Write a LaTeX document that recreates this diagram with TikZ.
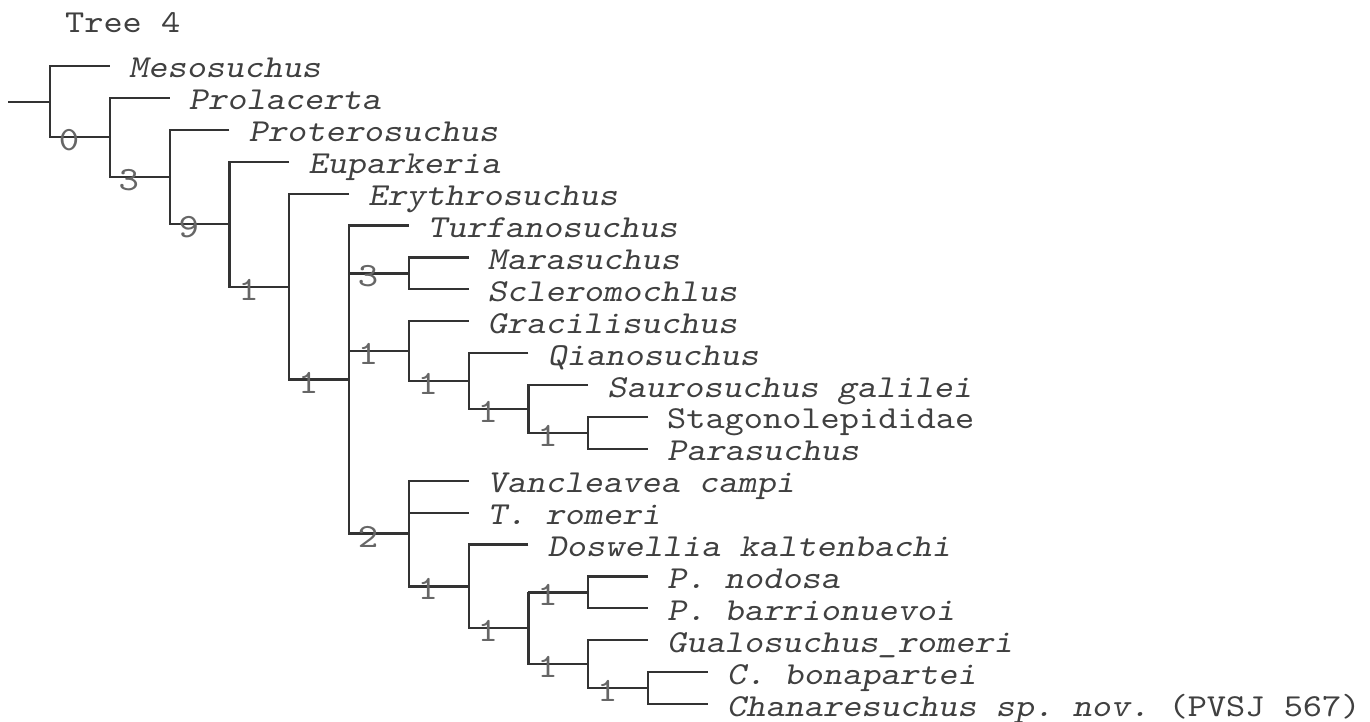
\documentclass[tikz,border=0pt]{standalone}
\usepackage{fontspec}
\setmonofont{lmmono10-regular.otf}[ItalicFont=lmmonoslant10-regular.otf, FakeStretch=1.143]
\usepackage{tikz}
\newcommand{\treefont}{\ttfamily\fontsize{16}{19}\selectfont}
\tikzstyle{title} = [anchor=base west, inner sep=0pt, font=\treefont, text=black!75]
\tikzstyle{leaf} = [anchor=west, inner xsep=9pt, inner ysep=0pt, text height=12pt, text depth=0pt, font=\treefont\itshape, text=black!75]
\tikzstyle{support} = [pos=0.32, yshift=-1.5pt, inner sep=0pt, font=\ttfamily\fontsize{17}{19}\selectfont, text=black!60]

\begin{document}
\begin{tikzpicture}[x=0.5pt, y=-0.5pt, line width=1.1pt, color=black!80]
  \useasboundingbox (0,0) rectangle (1370,722);
  \node (title) [title] at (64,33) {Tree 4};

  % clades
  \coordinate (root) at (8,101.7);
  \coordinate (nA) at (50,101.7);
  \coordinate (nB) at (109.8,137.4);
  \coordinate (nC) at (169.6,177);
  \coordinate (nD) at (229.4,224.1);
  \coordinate (nE) at (289.2,286.6);
  \coordinate (nF) at (349,379.5);
  \coordinate (nG) at (408.8,273.4);
  \coordinate (nH) at (408.8,351.1);
  \coordinate (nQ) at (468.6,381);
  \coordinate (nS) at (528.4,408.9);
  \coordinate (nP) at (588.2,432.9);
  \coordinate (nI) at (408.8,533.5);
  \coordinate (nDo) at (468.6,586.4);
  \coordinate (nX) at (528.4,628.2);
  \coordinate (nN) at (588.2,592.4);
  \coordinate (nU) at (588.2,664.1);
  \coordinate (nV) at (648,688.1);

  % taxa
  \node (meso) [leaf] at (109.8,66) {Mesosuchus};
  \node (prola) [leaf] at (169.6,97.9) {Prolacerta};
  \node (protero) [leaf] at (229.4,129.8) {Proterosuchus};
  \node (eupark) [leaf] at (289.2,161.7) {Euparkeria};
  \node (erythro) [leaf] at (349,193.6) {Erythrosuchus};
  \node (turfano) [leaf] at (408.8,225.5) {Turfanosuchus};
  \node (mara) [leaf] at (468.6,257.4) {Marasuchus};
  \node (sclero) [leaf] at (468.6,289.3) {Scleromochlus};
  \node (gracili) [leaf] at (468.6,321.2) {Gracilisuchus};
  \node (qiano) [leaf] at (528.4,353.1) {Qianosuchus};
  \node (sauro) [leaf] at (588.2,385) {Saurosuchus galilei};
  \node (stago) [leaf, font=\treefont\upshape] at (648,416.9) {Stagonolepididae};
  \node (parasu) [leaf] at (648,448.8) {Parasuchus};
  \node (vancle) [leaf] at (468.6,480.7) {Vancleavea campi};
  \node (tromeri) [leaf] at (468.6,512.6) {T. romeri};
  \node (doswel) [leaf] at (528.4,544.5) {Doswellia kaltenbachi};
  \node (pnodosa) [leaf] at (648,576.4) {P. nodosa};
  \node (pbarrio) [leaf] at (648,608.3) {P. barrionuevoi};
  \node (gualo) [leaf] at (648,640.2) {Gualosuchus\_romeri};
  \node (cbona) [leaf] at (707.8,672.1) {C. bonapartei};
  \node (chanar) [leaf] at (707.8,704) {Chanaresuchus sp. nov. {\upshape(PVSJ 567)}};

  % branches
  \draw (root) -- (nA);
  \draw (meso.west) -| (nA |- nB) -- node[support] (sB) {0} (nB);
  \draw (prola.west) -| (nB |- nC) -- node[support] (sC) {3} (nC);
  \draw (protero.west) -| (nC |- nD) -- node[support] (sD) {9} (nD);
  \draw (eupark.west) -| (nD |- nE) -- node[support] (sE) {1} (nE);
  \draw (erythro.west) -| (nE |- nF) -- node[support] (sF) {1} (nF);
  \draw (turfano.west) -| (nF |- nI) -- node[support] (sI) {2} (nI);
  \draw (nF |- nG) -- node[support] (sG) {3} (nG);
  \draw (nF |- nH) -- node[support] (sH) {1} (nH);
  \draw (mara.west) -| (nG |- sclero.west) -- (sclero.west);
  \draw (gracili.west) -| (nH |- nQ) -- node[support] (sQ) {1} (nQ);
  \draw (qiano.west) -| (nQ |- nS) -- node[support] (sS) {1} (nS);
  \draw (sauro.west) -| (nS |- nP) -- node[support] (sP) {1} (nP);
  \draw (stago.west) -| (nP |- parasu.west) -- (parasu.west);
  \draw (vancle.west) -| (nI |- nDo) -- node[support] (sDo) {1} (nDo);
  \draw (nI |- tromeri.west) -- (tromeri.west);
  \draw (doswel.west) -| (nDo |- nX) -- node[support] (sX) {1} (nX);
  \draw (nX |- nN) -- node[support] (sN) {1} (nN);
  \draw (nX |- nN) -- (nX |- nU) -- node[support] (sU) {1} (nU);
  \draw (pnodosa.west) -| (nN |- pbarrio.west) -- (pbarrio.west);
  \draw (gualo.west) -| (nU |- nV) -- node[support] (sV) {1} (nV);
  \draw (cbona.west) -| (nV |- chanar.west) -- (chanar.west);
\end{tikzpicture}
\end{document}
